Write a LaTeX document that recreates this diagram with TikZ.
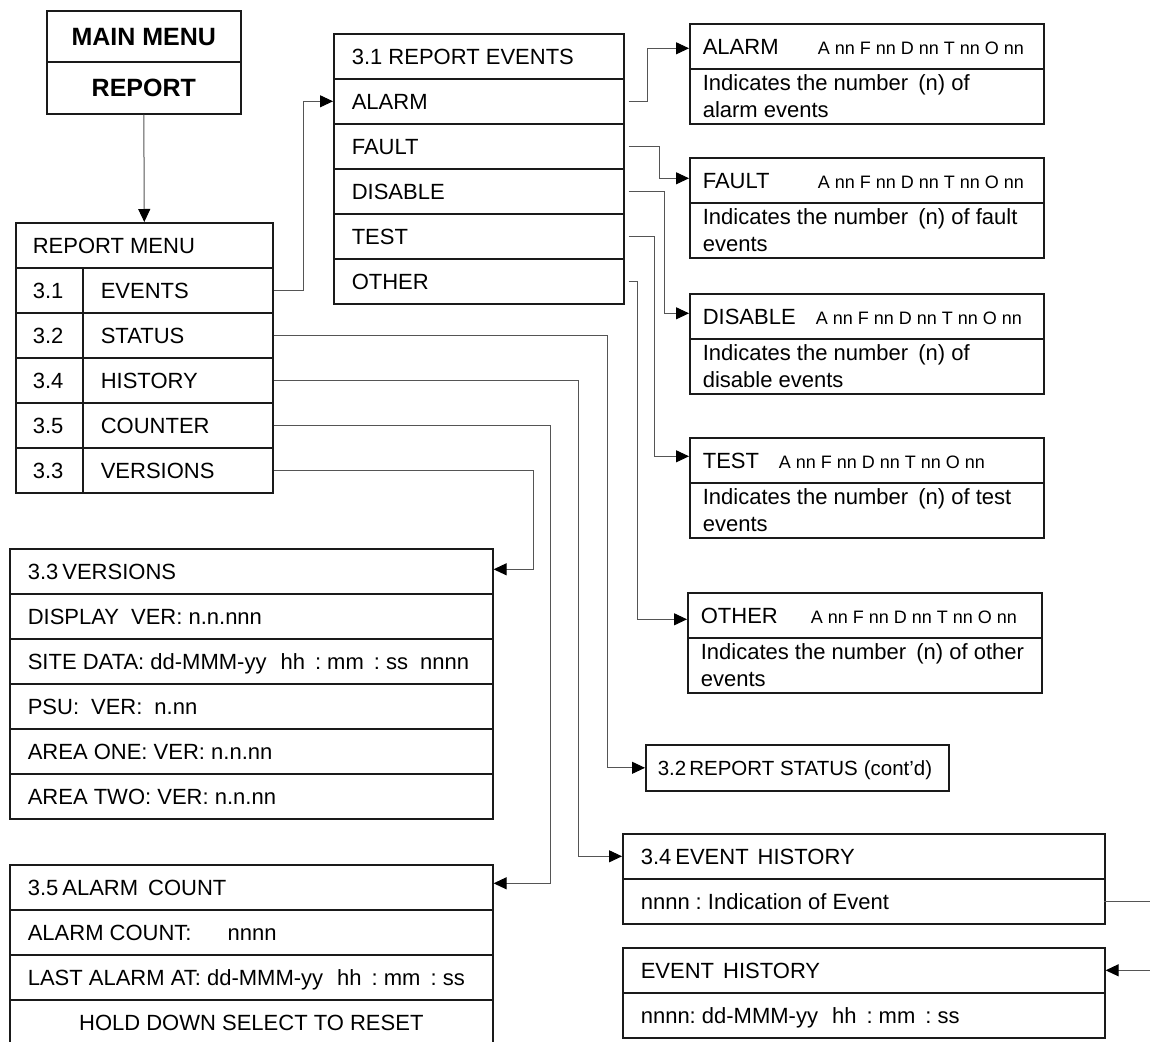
\documentclass[tikz,border=0pt]{standalone}
\usepackage{fontspec}
\setmainfont{Liberation Sans}
\usetikzlibrary{arrows.meta}
\definecolor{boxc}{HTML}{1A1A1A}
\definecolor{linec}{HTML}{555555}
\newcommand{\nsp}{\spaceskip=0pt\xspaceskip=0pt\frenchspacing}
\newcommand{\fmain}{\fontsize{22}{27}\selectfont\nsp}
\newcommand{\fsm}{\fontsize{18}{20}\selectfont\nsp}
\newcommand{\fbig}{\fontsize{25}{30}\selectfont\bfseries\nsp}
\newcommand{\cnt}{{\fsm A nn F nn D nn T nn O nn}}
\newcommand{\hms}{hh\hspace{10pt}: mm\hspace{10pt}: ss}
\begin{document}
\begin{tikzpicture}[x=1pt,y=-1pt,
  cell/.style={draw=boxc, line width=1.6pt, anchor=north west, inner ysep=0pt,
    align=left, font=\fmain, minimum height=45pt, execute at begin node=\nsp},
  one/.style={text height=16pt, text depth=0pt},
  conn/.style={draw=linec, line width=1pt},
  arr/.style={conn, -{Triangle[length=13pt,width=12pt,color=black]}},
]
\useasboundingbox (0,0) rectangle (1150,1041);
\coordinate (redge) at (1150,0);

% MAIN MENU
\node[cell, align=flush center, font=\fbig, text height=18pt, text depth=0pt,
  text width=194pt, inner xsep=0pt, minimum height=51pt] (mm1) at (46,10) {MAIN MENU};
\node[cell, align=flush center, font=\fbig, text height=18pt, text depth=0pt,
  text width=194pt, inner xsep=0pt, minimum height=52pt] (mm2) at (46,61) {REPORT};

% REPORT MENU
\node[cell, one, text width=223pt, inner xsep=17pt] (rmh) at (15,222) {REPORT MENU};
\node[cell, one, text width=33pt, inner xsep=17pt] (n31) at (15,267) {3.1};
\node[cell, one, text width=154pt, inner xsep=18pt] (ev) at (82,267) {EVENTS};
\node[cell, one, text width=33pt, inner xsep=17pt] (n32) at (15,312) {3.2};
\node[cell, one, text width=154pt, inner xsep=18pt] (st) at (82,312) {STATUS};
\node[cell, one, text width=33pt, inner xsep=17pt] (n34) at (15,357) {3.4};
\node[cell, one, text width=154pt, inner xsep=18pt] (hi) at (82,357) {HISTORY};
\node[cell, one, text width=33pt, inner xsep=17pt] (n35) at (15,402) {3.5};
\node[cell, one, text width=154pt, inner xsep=18pt] (co) at (82,402) {COUNTER};
\node[cell, one, text width=33pt, inner xsep=17pt] (n33) at (15,447) {3.3};
\node[cell, one, text width=154pt, inner xsep=18pt] (ve) at (82,447) {VERSIONS};

% 3.1 REPORT EVENTS
\node[cell, one, text width=254pt, inner xsep=18pt] (r31h) at (333,33) {3.1 REPORT EVENTS};
\node[cell, one, text width=254pt, inner xsep=18pt] (ralarm) at (333,78) {ALARM};
\node[cell, one, text width=254pt, inner xsep=18pt] (rfault) at (333,123) {FAULT};
\node[cell, one, text width=254pt, inner xsep=18pt] (rdisable) at (333,168) {DISABLE};
\node[cell, one, text width=254pt, inner xsep=18pt] (rtest) at (333,213) {TEST};
\node[cell, one, text width=254pt, inner xsep=18pt] (rother) at (333,258) {OTHER};

% Event detail boxes
\node[cell, one, text width=328pt, inner xsep=13pt] (alarmh) at (689,23) {\makebox[115pt][l]{ALARM}\cnt};
\node[cell, text width=328pt, inner xsep=13pt, minimum height=55pt] (alarmd) at (689,68)
  {\mbox{Indicates the number\hspace{4pt} (n) of}\\\mbox{alarm events}};
\node[cell, one, text width=328pt, inner xsep=13pt] (faulth) at (689,157) {\makebox[115pt][l]{FAULT}\cnt};
\node[cell, text width=328pt, inner xsep=13pt, minimum height=55pt] (faultd) at (689,202)
  {\mbox{Indicates the number\hspace{4pt} (n) of fault}\\\mbox{events}};
\node[cell, one, text width=328pt, inner xsep=13pt] (disableh) at (689,293) {\makebox[113pt][l]{DISABLE}\cnt};
\node[cell, text width=328pt, inner xsep=13pt, minimum height=55pt] (disabled) at (689,338)
  {\mbox{Indicates the number\hspace{4pt} (n) of}\\\mbox{disable events}};
\node[cell, one, text width=328pt, inner xsep=13pt] (testh) at (689,437) {\makebox[76pt][l]{TEST}\cnt};
\node[cell, text width=328pt, inner xsep=13pt, minimum height=55pt] (testd) at (689,482)
  {\mbox{Indicates the number\hspace{4pt} (n) of test}\\\mbox{events}};
\node[cell, one, text width=328pt, inner xsep=13pt] (otherh) at (687,592) {\makebox[110pt][l]{OTHER}\cnt};
\node[cell, text width=328pt, inner xsep=13pt, minimum height=55pt] (otherd) at (687,637)
  {\mbox{Indicates the number\hspace{4pt} (n) of other}\\\mbox{events}};

% 3.2 REPORT STATUS
\node[cell, one, text width=279pt, inner xsep=12pt, minimum height=46pt] (rs) at (645,744)
  {\mbox{\fontsize{20.5}{24}\selectfont 3.2\hspace{3pt}REPORT STATUS\hspace{6pt}(cont’d)}};

% 3.4 EVENT HISTORY
\node[cell, one, text width=446pt, inner xsep=18pt] (eh1) at (622,833) {3.4\hspace{4pt}EVENT\hspace{9pt}HISTORY};
\node[cell, one, text width=446pt, inner xsep=18pt] (eh2) at (622,878) {nnnn\hspace{6pt}: Indication of Event};
\node[cell, one, text width=446pt, inner xsep=18pt] (eh3) at (622,947) {EVENT\hspace{9pt}HISTORY};
\node[cell, one, text width=446pt, inner xsep=18pt] (eh4) at (622,992) {nnnn: dd-MMM-yy\hspace{14pt}\hms};

% 3.3 VERSIONS
\node[cell, one, text width=447pt, inner xsep=18pt] (v1) at (9,548) {3.3\hspace{4pt}VERSIONS};
\node[cell, one, text width=447pt, inner xsep=18pt] (v2) at (9,593) {DISPLAY\hspace{12pt}VER: n.n.nnn};
\node[cell, one, text width=447pt, inner xsep=18pt] (v3) at (9,638) {\mbox{SITE DATA: dd-MMM-yy\hspace{14pt}\hms\hspace{12pt}nnnn}};
\node[cell, one, text width=447pt, inner xsep=18pt] (v4) at (9,683) {PSU:\hspace{12pt}VER:\hspace{12pt}n.nn};
\node[cell, one, text width=447pt, inner xsep=18pt] (v5) at (9,728) {AREA ONE: VER: n.n.nn};
\node[cell, one, text width=447pt, inner xsep=18pt] (v6) at (9,773) {AREA TWO: VER: n.n.nn};

% 3.5 ALARM COUNT
\node[cell, one, text width=447pt, inner xsep=18pt] (a1) at (9,864) {3.5\hspace{4pt}ALARM\hspace{10pt}COUNT};
\node[cell, one, text width=447pt, inner xsep=18pt] (a2) at (9,909) {ALARM COUNT:\hspace{36pt}nnnn};
\node[cell, one, text width=447pt, inner xsep=18pt] (a3) at (9,954) {\mbox{LAST ALARM AT: dd-MMM-yy\hspace{14pt}\hms}};
\node[cell, one, align=flush center, text width=447pt, inner xsep=18pt] (a4) at (9,999) {HOLD DOWN SELECT TO RESET};

% connectors
\draw[arr] (mm2.south) -- (rmh.north);
\draw[arr] (ev.east) -- ++(30,0) |- (ralarm.west);
\draw[arr] ([xshift=4pt]ralarm.east) -- ++(19,0) |- ([yshift=-2pt]alarmh.west);
\draw[arr] ([xshift=4pt]rfault.east) -- ++(31,0) |- ([yshift=2pt]faulth.west);
\draw[arr] ([xshift=4pt]rdisable.east) -- ++(36,0) |- ([yshift=3pt]disableh.west);
\draw[arr] ([xshift=4pt]rtest.east) -- ++(26,0) |- ([yshift=4pt]testh.west);
\draw[arr] ([xshift=4pt]rother.east) -- ++(9,0) |- ([yshift=-4pt]otherh.west);
\draw[arr] (st.east) -- ++(334,0) |- (rs.west);
\draw[arr] (hi.east) -- ++(305,0) |- (eh1.west);
\draw[arr] (co.east) -- ++(277,0) |- ([yshift=4pt]a1.east);
\draw[arr] (ve.east) -- ++(260,0) |- ([yshift=2pt]v1.east);
\draw[conn] ([xshift=-2pt]eh2.east) -- (eh2.east -| redge);
\draw[arr] (eh3.east -| redge) -- (eh3.east);
\end{tikzpicture}
\end{document}
